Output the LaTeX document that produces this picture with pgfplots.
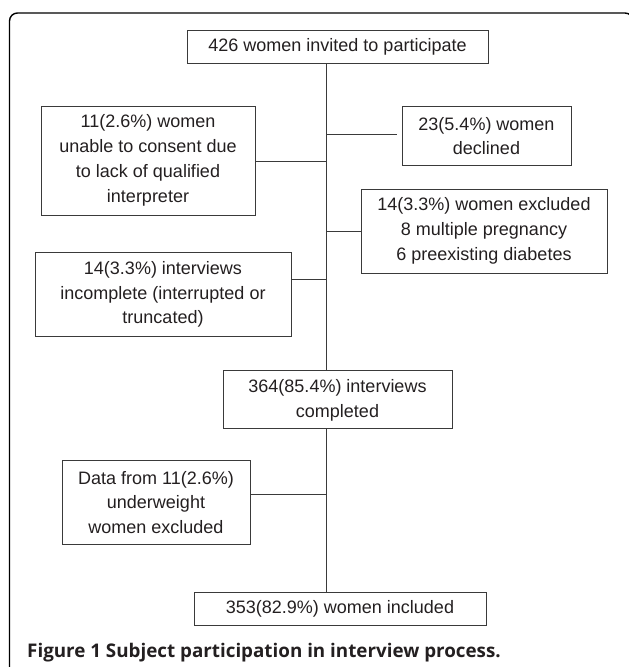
\documentclass[border=0pt]{standalone}
\usepackage{pgfplots}
\pgfplotsset{compat=1.18}
\usepackage{fontspec}
\setmainfont{Liberation Sans}
\newfontfamily\capfont{Open Sans}
\definecolor{boxc}{HTML}{3A3A3A}
\definecolor{txt}{HTML}{231F20}
\begin{document}
\begin{tikzpicture}
\begin{axis}[
  scale only axis, width=629bp, height=667bp,
  xmin=0, xmax=629, ymin=0, ymax=667, y dir=reverse,
  hide axis, clip=false,
]
% outer frame
\addplot[black, line width=1.4pt, rounded corners=8pt, mark=none] coordinates {(9.5,690) (9.5,13) (633,13) (633,690)};
% boxes
\addplot[boxc, line width=0.9pt, mark=none] coordinates {(187,30) (488,30) (488,63) (187,63) (187,30)};
\addplot[boxc, line width=0.9pt, mark=none] coordinates {(41,106) (255,106) (255,215) (41,215) (41,106)};
\addplot[boxc, line width=0.9pt, mark=none] coordinates {(402,106) (571,106) (571,165) (402,165) (402,106)};
\addplot[boxc, line width=0.9pt, mark=none] coordinates {(361,189) (607,189) (607,273) (361,273) (361,189)};
\addplot[boxc, line width=0.9pt, mark=none] coordinates {(35,252) (291,252) (291,336) (35,336) (35,252)};
\addplot[boxc, line width=0.9pt, mark=none] coordinates {(223,370) (452,370) (452,428) (223,428) (223,370)};
\addplot[boxc, line width=0.9pt, mark=none] coordinates {(62,460) (250,460) (250,544) (62,544) (62,460)};
\addplot[boxc, line width=0.9pt, mark=none] coordinates {(194,592) (486,592) (486,625) (194,625) (194,592)};
% connectors
\addplot[boxc, line width=0.9pt, mark=none] coordinates {(326,63) (326,370)};
\addplot[boxc, line width=0.9pt, mark=none] coordinates {(326,428) (326,592)};
\addplot[boxc, line width=0.9pt, mark=none] coordinates {(255,161) (326,161)};
\addplot[boxc, line width=0.9pt, mark=none] coordinates {(326,134) (397,134)};
\addplot[boxc, line width=0.9pt, mark=none] coordinates {(326,231) (361,231)};
\addplot[boxc, line width=0.9pt, mark=none] coordinates {(291,279) (326,279)};
\addplot[boxc, line width=0.9pt, mark=none] coordinates {(250,494) (326,494)};
% texts
\tikzset{bt/.style={align=center, text=txt, inner sep=0pt, font=\fontsize{18bp}{24.8bp}\selectfont}}
\node[bt] at (axis cs:337.5,46.5) {426 women invited to participate};
\node[bt] at (axis cs:148,160.5) {11(2.6\%) women\\unable to consent due\\to lack of qualified\\interpreter};
\node[bt] at (axis cs:486.5,136) {23(5.4\%) women\\declined};
\node[bt] at (axis cs:484,231) {14(3.3\%) women excluded\\8 multiple pregnancy\\6 preexisting diabetes};
\node[bt] at (axis cs:163,294.5) {14(3.3\%) interviews\\incomplete (interrupted or\\truncated)};
\node[bt] at (axis cs:337.5,400) {364(85.4\%) interviews\\completed};
\node[bt] at (axis cs:156,502.5) {Data from 11(2.6\%)\\underweight\\women excluded};
\node[bt] at (axis cs:340,608.5) {353(82.9\%) women included};
\node[anchor=base west, inner sep=0pt, text=txt, font=\capfont\bfseries\fontsize{18.8bp}{22bp}\selectfont] at (axis cs:27,657.5) {Figure 1 Subject participation in interview process.};
\end{axis}
\pgfresetboundingbox
\useasboundingbox (current axis.south west) rectangle (current axis.north east);
\end{tikzpicture}
\end{document}
